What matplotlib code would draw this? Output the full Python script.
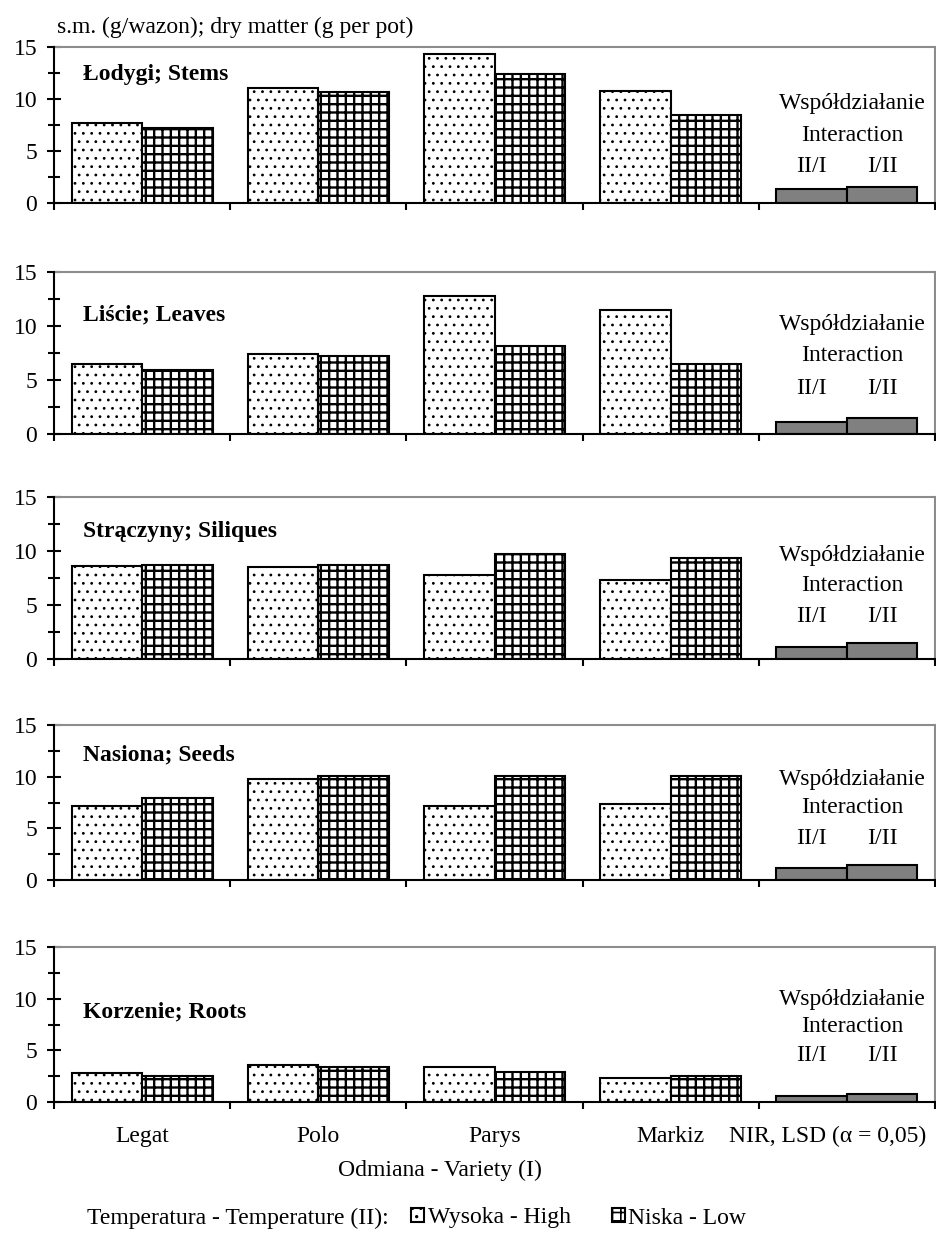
import matplotlib
matplotlib.use('Agg')
import matplotlib.pyplot as plt
from matplotlib.patches import Patch
import numpy as np

plt.rcParams['font.family'] = ['Liberation Serif', 'DejaVu Serif']
plt.rcParams['font.size'] = 17
plt.rcParams['hatch.linewidth'] = 1.2

# ---------------- data ----------------
varieties = ['Legat', 'Polo', 'Parys', 'Markiz']
lsd_label = 'NIR, LSD (α = 0,05)'
organs = ['Łodygi; Stems', 'Liście; Leaves', 'Strączyny; Siliques',
          'Nasiona; Seeds', 'Korzenie; Roots']
high = [
    [7.7, 11.1, 14.35, 10.75],   # stems
    [6.5, 7.4, 12.8, 11.5],      # leaves
    [8.6, 8.55, 7.75, 7.35],     # siliques
    [7.15, 9.75, 7.2, 7.35],     # seeds
    [2.8, 3.6, 3.35, 2.35],      # roots
]
low = [
    [7.25, 10.7, 12.45, 8.5],
    [5.95, 7.25, 8.15, 6.5],
    [8.75, 8.75, 9.7, 9.35],
    [7.95, 10.05, 10.05, 10.05],
    [2.55, 3.4, 2.95, 2.5],
]
lsd_II_I = [1.37, 1.1, 1.15, 1.15, 0.6]
lsd_I_II = [1.56, 1.48, 1.48, 1.42, 0.82]
lsd_names = ['II/I', 'I/II']
legend_title = 'Temperatura - Temperature (II):'
legend_labels = ['Wysoka - High', 'Niska - Low']
y_title = 's.m. (g/wazon); dry matter (g per pot)'
x_title = 'Odmiana - Variety (I)'

# ---------------- layout ----------------
W, H = 937, 1234
panels_px = [(47, 203), (272, 434), (497, 659), (725, 880), (947, 1102)]
label_y = [12.4, 11.0, 11.8, 12.1, 8.7]
wsp_y = [9.6, 10.1, 9.6, 9.7, 9.9]
int_y = [6.5, 7.3, 6.8, 7.0, 7.3]
ii_y = [3.5, 4.2, 3.9, 4.0, 4.5]
DOT_LW = 0.8
GRID_LW = 1.7


def set_hlw(patches, lw):
    for p in patches:
        if hasattr(p, 'set_hatch_linewidth'):
            p.set_hatch_linewidth(lw)


fig = plt.figure(figsize=(W / 100, H / 100), dpi=100)
x = np.arange(len(varieties))
bw = 0.4
n = len(varieties)

for i, (t, b) in enumerate(panels_px):
    ax = fig.add_axes([54 / W, 1 - b / H, 881 / W, (b - t) / H])
    with plt.rc_context({'hatch.linewidth': DOT_LW}):
        hb = ax.bar(x - bw / 2, high[i], bw, color='white', edgecolor='black',
                    hatch='..', linewidth=1.5, zorder=3)
    set_hlw(hb, DOT_LW)
    with plt.rc_context({'hatch.linewidth': GRID_LW}):
        lb = ax.bar(x + bw / 2, low[i], bw, color='white', edgecolor='black',
                    hatch='++', linewidth=1.5, zorder=3)
    set_hlw(lb, GRID_LW)
    ax.bar([n - bw / 2, n + bw / 2], [lsd_II_I[i], lsd_I_II[i]], bw,
           color='#808080', edgecolor='black', linewidth=1.5, zorder=3)
    ax.set_xlim(-0.5, n + 0.5)
    ax.set_ylim(0, 15)

    ax.set_yticks([0, 5, 10, 15])
    ax.set_yticks([2.5, 7.5, 12.5], minor=True)
    ax.tick_params(axis='y', which='both', direction='inout', width=1.5,
                   color='black')
    ax.tick_params(axis='y', which='major', length=10, pad=7)
    ax.tick_params(axis='y', which='minor', length=8)

    ax.set_xticks(np.arange(-0.5, n + 0.6, 1))
    ax.set_xticklabels([])
    ax.tick_params(axis='x', which='major', direction='out', length=5,
                   width=1.5)
    if i == len(panels_px) - 1:
        ax.set_xticks(list(range(n)) + [n - 0.11], minor=True)
        ax.set_xticklabels(varieties + [lsd_label], minor=True)
        ax.tick_params(axis='x', which='minor', length=0, pad=17)

    for s in ['top', 'right']:
        ax.spines[s].set_color('#8c8c8c')
        ax.spines[s].set_linewidth(1.5)
    for s in ['left', 'bottom']:
        ax.spines[s].set_color('black')
        ax.spines[s].set_linewidth(1.5)
        ax.spines[s].set_zorder(4)

    ax.text(0.033, label_y[i], organs[i], transform=ax.get_yaxis_transform(),
            fontweight='bold', ha='left', va='center')
    cx = n + 0.03
    ax.text(cx, wsp_y[i], 'Współdziałanie', ha='center', va='center')
    ax.text(cx, int_y[i], 'Interaction', ha='center', va='center')
    ax.text(n - bw / 2, ii_y[i], lsd_names[0], ha='center', va='center')
    ax.text(n + bw / 2, ii_y[i], lsd_names[1], ha='center', va='center')

fig.text(57 / W, 1 - 27 / H, y_title, ha='left', va='center')
fig.text(440 / W, 1 - 1170 / H, x_title, ha='center', va='center')
fig.text(87 / W, 1 - 1218 / H, legend_title, ha='left', va='center')
with plt.rc_context({'hatch.linewidth': 1.2}):
    handles = [Patch(facecolor='white', edgecolor='black', hatch='..',
                     linewidth=1.5, label=legend_labels[0]),
               Patch(facecolor='white', edgecolor='black', hatch='++',
                     linewidth=1.5, label=legend_labels[1])]
    fig.legend(handles=handles, ncol=2, loc='center left',
               bbox_to_anchor=(411 / W, 1 - 1218 / H), frameon=False,
               handlelength=0.55, handleheight=0.55, handletextpad=0.15,
               columnspacing=1.75, borderpad=0, borderaxespad=0)

fig.savefig('out.png', dpi=100)
